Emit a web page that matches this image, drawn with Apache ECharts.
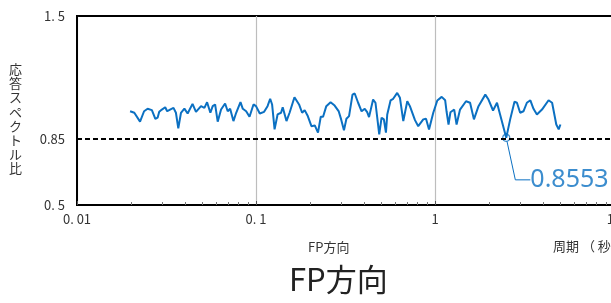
<!DOCTYPE html>
<html>
<head>
<meta charset="utf-8">
<script src="https://cdn.jsdelivr.net/npm/echarts@6/dist/echarts.min.js"></script>
<style>
html, body { margin: 0; padding: 0; background: #fff; }
#chart { width: 611px; height: 303px; }
</style>
</head>
<body>
<div id="chart"></div>
<script>
// 周期 (秒)
const periods = [
  0.0198, 0.0209, 0.0225, 0.0237, 0.0248, 0.0262, 0.0274, 0.0282, 0.0288, 0.0298,
  0.0311, 0.0319, 0.0331, 0.0346, 0.0357, 0.0368, 0.0381, 0.0398, 0.0415, 0.0442,
  0.0462, 0.0493, 0.0515, 0.0533, 0.0556, 0.0573, 0.0591, 0.0611, 0.0638, 0.0672,
  0.0695, 0.0717, 0.0748, 0.0775, 0.0819, 0.0844, 0.0881, 0.0920, 0.0968, 0.100,
  0.105, 0.111, 0.116, 0.120, 0.123, 0.127, 0.132, 0.138, 0.141, 0.148,
  0.154, 0.164, 0.174, 0.181, 0.187, 0.194, 0.204, 0.213, 0.222, 0.230,
  0.237, 0.247, 0.261, 0.275, 0.290, 0.299, 0.310, 0.320, 0.331, 0.346,
  0.356, 0.372, 0.389, 0.405, 0.418, 0.428, 0.451, 0.465, 0.488, 0.503,
  0.518, 0.532, 0.541, 0.565, 0.584, 0.615, 0.637, 0.665, 0.700, 0.724,
  0.773, 0.806, 0.860, 0.891, 0.926, 0.978, 1.03, 1.09, 1.14, 1.16,
  1.19, 1.22, 1.28, 1.32, 1.38, 1.49, 1.57, 1.65, 1.75, 1.91,
  1.99, 2.11, 2.22, 2.31, 2.50, 2.63, 2.78, 2.87, 2.99, 3.12,
  3.26, 3.41, 3.55, 3.71, 3.96, 4.31, 4.51, 4.76, 4.91, 5.02
]
// 応答スペクトル比
const ratios = [
  0.996, 0.988, 0.941, 0.996, 1.009, 1.002, 0.956, 0.962, 0.993, 1.005,
  1.017, 0.996, 1.005, 1.014, 0.988, 0.905, 0.988, 1.010, 0.984, 1.035,
  0.993, 1.023, 1.014, 1.044, 0.988, 1.023, 1.032, 0.941, 1.005, 1.037,
  0.996, 1.009, 0.944, 0.988, 1.044, 1.009, 0.996, 0.967, 1.032, 1.023,
  0.984, 0.993, 1.023, 1.062, 1.032, 0.900, 0.979, 0.988, 1.017, 0.944,
  0.988, 1.070, 1.032, 0.988, 1.002, 0.974, 0.917, 0.921, 0.883, 0.967,
  0.967, 1.023, 1.044, 1.026, 0.995, 0.953, 0.895, 0.956, 0.970, 1.084,
  1.090, 1.041, 0.996, 1.009, 0.991, 0.965, 1.058, 1.041, 0.874, 0.962,
  0.953, 0.883, 0.979, 1.054, 1.062, 1.093, 1.067, 0.944, 1.049, 1.023,
  0.949, 0.917, 0.953, 0.956, 0.900, 0.988, 1.053, 1.072, 1.054, 0.996,
  0.926, 0.991, 1.005, 0.926, 1.005, 1.049, 1.041, 0.953, 1.023, 1.084,
  1.058, 1.000, 1.041, 0.979, 0.8553, 0.953, 1.046, 1.041, 0.988, 0.996,
  1.041, 1.054, 1.009, 0.979, 1.005, 1.054, 1.041, 0.926, 0.900, 0.926
]
const minPeriod = 2.50
const minRatio = 0.8553
const refValue = 0.85

const xTickValues = [0.01, 0.1, 1, 10]
const xTickLabels = ['0. 01', '0. 1', '1', '10']
const yTickValues = [0.5, 0.85, 1.5]
const yTickLabels = ['0. 5', '0.85', '1. 5']

const blue = '#0b70c2'
const labelFont = '"Noto Sans CJK JP", "Noto Sans", sans-serif'

const myChart = echarts.init(document.getElementById('chart'), null, { renderer: 'canvas' })

const pickLabel = (values, labels, v, isLog) => {
  for (let i = 0; i < values.length; i++) {
    const d = isLog ? Math.abs(Math.log10(v) - Math.log10(values[i])) : Math.abs(v - values[i])
    if (d < 1e-6) return labels[i]
  }
  return ''
}

const option = {
  animation: false,
  backgroundColor: '#fff',
  title: [
    {
      // 縦書きの軸名
      text: '応答スペクトル比'.split('').join('\n'),
      left: 4,
      top: 57,
      textStyle: { fontFamily: labelFont, fontSize: 13, fontWeight: 'normal', color: '#333', lineHeight: 14.2 },
    },
    {
      text: 'FP方向',
      left: 303,
      top: 236,
      textStyle: { fontFamily: labelFont, fontSize: 13, fontWeight: 'normal', color: '#333' },
    },
    {
      text: '周期 （ 秒 ）',
      left: 548,
      top: 235,
      textStyle: { fontFamily: labelFont, fontSize: 13, fontWeight: 'normal', color: '#333' },
    },
    {
      text: 'FP方向',
      left: 284,
      top: 259,
      textStyle: { fontFamily: labelFont, fontSize: 31, fontWeight: 'normal', color: '#222' },
    },
  ],
  grid: {
    left: 77,
    right: -3,
    top: 16,
    bottom: 98,
    outerBoundsMode: 'none',
    containLabel: false,
    show: true,
    borderColor: '#000',
    borderWidth: 2,
  },
  xAxis: {
    type: 'log',
    logBase: 10,
    min: 0.01,
    max: 10,
    axisLine: { show: true, lineStyle: { color: '#000', width: 2 } },
    axisTick: { show: true, inside: true, length: 4, lineStyle: { color: '#555' } },
    minorTick: { show: true, splitNumber: 9, length: 3, lineStyle: { color: '#777' } },
    splitLine: { show: true, lineStyle: { color: '#bdbdbd', width: 1.2 } },
    axisLabel: {
      margin: 8,
      fontFamily: labelFont,
      fontSize: 13,
      color: '#333',
      formatter: (v) => pickLabel(xTickValues, xTickLabels, v, true),
    },
  },
  yAxis: {
    type: 'value',
    min: 0.5,
    max: 1.5,
    axisLine: { show: true, lineStyle: { color: '#000', width: 2 } },
    axisTick: { show: false },
    splitLine: { show: false },
    axisLabel: {
      margin: 12,
      fontFamily: labelFont,
      fontSize: 13,
      color: '#333',
      customValues: yTickValues,
      formatter: (v) => pickLabel(yTickValues, yTickLabels, v, false),
    },
  },
  series: [
    {
      name: 'FP方向',
      type: 'line',
      data: periods.map((p, i) => [p, ratios[i]]),
      showSymbol: false,
      lineStyle: { color: blue, width: 2 },
      markLine: {
        silent: true,
        symbol: 'none',
        label: { show: false },
        lineStyle: { color: '#000', type: [5, 3], width: 2 },
        data: [{ yAxis: refValue }],
      },
      z: 3,
    },
    {
      name: '最小',
      type: 'scatter',
      data: [[minPeriod, minRatio]],
      symbol: 'circle',
      symbolSize: 7,
      itemStyle: { color: 'rgba(255,255,255,0)', borderColor: blue, borderWidth: 1.2 },
      label: {
        show: true,
        position: 'right',
        formatter: minRatio.toFixed(4),
        fontFamily: '"Noto Sans", sans-serif',
        fontSize: 25,
        color: blue,
      },
      labelLayout: { dx: 15, dy: 42 },
      labelLine: { show: true, length2: 15, lineStyle: { color: blue, width: 1 } },
      z: 4,
    },
  ],
}

myChart.setOption(option)
</script>
</body>
</html>
